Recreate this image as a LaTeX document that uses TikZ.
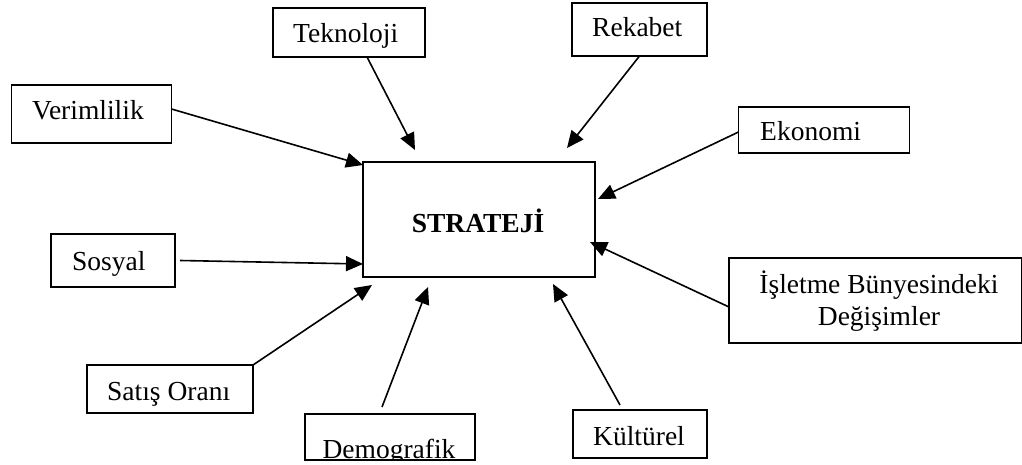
\documentclass[tikz,border=0pt]{standalone}
\usepackage{fontspec}
\setmainfont{Liberation Serif}
\usetikzlibrary{arrows.meta,calc}
\begin{document}
\begin{tikzpicture}[x=1pt,y=-1pt,
  every node/.style={font=\fontsize{27.5}{33}\selectfont},
  frame/.style={draw, line width=1.2pt, outer sep=0pt, inner sep=0pt},
  lbl/.style={anchor=base west, inner sep=0pt},
  mid/.style={anchor=base, inner sep=0pt},
  link/.style={line width=1.6pt, -{Triangle[length=17pt,width=15pt]}}]
\useasboundingbox (0,0) rectangle (1022,465);

% factor boxes and their texts
\node[frame, minimum width=152pt, minimum height=49pt] (tek) at (349,32.5) {};
\node[lbl] (tekt) at (293,43) {Teknoloji};
\node[frame, minimum width=135pt, minimum height=53pt] (rek) at (639.5,29.5) {};
\node[lbl] (rekt) at (592,37) {Rekabet};
\node[frame, minimum width=160pt, minimum height=58pt] (ver) at (91.5,114) {};
\node[lbl] (vert) at (32,120) {Verimlilik};
\node[frame, minimum width=171pt, minimum height=46pt] (eko) at (824,130) {};
\node[lbl] (ekot) at (760,140.7) {Ekonomi};
\node[frame, minimum width=124pt, minimum height=53pt] (sos) at (113,260.5) {};
\node[lbl] (sost) at (72,270) {Sosyal};
\node[frame, minimum width=293pt, minimum height=85pt] (isl) at (875.5,300.5) {};
\node[mid] (islt1) at (879,293) {İşletme Bünyesindeki};
\node[mid] (islt2) at (879,325) {Değişimler};
\node[frame, minimum width=166pt, minimum height=48pt] (sat) at (170,389) {};
\node[lbl] (satt) at (107,400) {Satış Oranı};
\node[frame, minimum width=170pt, minimum height=46pt] (dem) at (390,437) {};
\begin{scope}
  \clip (dem.north west) rectangle (dem.south east);
  \node[mid] (demt) at (389,458) {Demografik};
\end{scope}
\node[frame, minimum width=134pt, minimum height=48pt] (kul) at (640,434) {};
\node[lbl] (kult) at (593,445) {Kültürel};

% central box
\node[frame, minimum width=232pt, minimum height=115pt] (str) at (479,219.5) {};
\node[mid, font=\fontsize{27.5}{33}\selectfont\bfseries] (strt) at (478,233) {STRATEJİ};

% arrow tips around the central box
\coordinate (tTek) at (415,150);
\coordinate (tRek) at (567,148);
\coordinate (tVer) at (363,165);
\coordinate (tEko) at (598,199);
\coordinate (tSos) at (363,264);
\coordinate (tIsl) at (590,242);
\coordinate (tSat) at (372,285);
\coordinate (tDem) at (428,287);
\coordinate (tKul) at (553,284);

% influences
\draw[link] ([xshift=18pt]tek.south) -- (tTek);
\draw[link] (rek.south) -- (tRek);
\draw[link] ([yshift=5pt]ver.east) -- (tVer);
\draw[link] ([yshift=-2pt]eko.west) -- (tEko);
\draw[link] ([xshift=5pt]sos.east) -- (tSos);
\draw[link] ([yshift=-6.5pt]isl.west) -- (tIsl);
\draw[link] (sat.north east) -- (tSat);
\draw[link] ([shift={(-8pt,7pt)}]dem.north) -- (tDem);
\draw[link] ([shift={(-20pt,5pt)}]kul.north) -- (tKul);
\end{tikzpicture}
\end{document}
